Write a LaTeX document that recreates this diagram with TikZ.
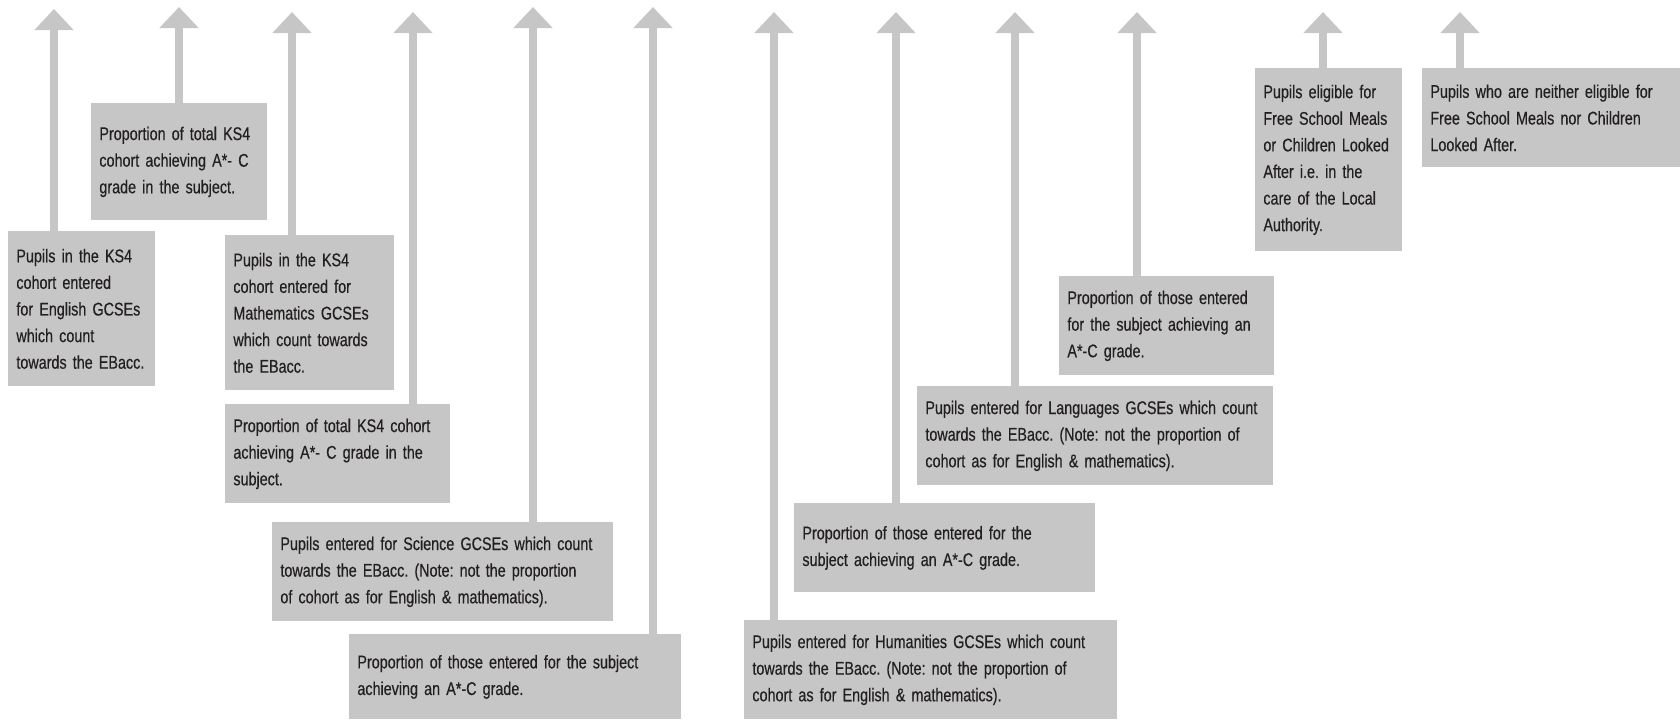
\documentclass[tikz,border=0pt]{standalone}
\usepackage{fontspec}
\setmainfont{Liberation Sans}[FakeStretch=0.78, WordSpace=0.85, FakeBold=0.4]
\usetikzlibrary{arrows.meta}
\definecolor{boxgrey}{HTML}{C6C6C6}
\definecolor{notetext}{HTML}{231F20}
\frenchspacing

\begin{document}
\begin{tikzpicture}[x=0.5pt, y=-0.5pt,
        note/.style={fill=boxgrey, text=notetext, anchor=north west, align=left,
            inner xsep=4pt, inner ysep=2pt, font=\fontsize{9.2}{13.3}\selectfont},
        pointer/.style={draw=boxgrey, line width=4pt, -{Triangle[width=19pt, length=10.5pt]}}]
        
        \useasboundingbox (0,0) rectangle (1680,719);
        
        \coordinate (tipA) at (54,9);
        \coordinate (tipB) at (179,7);
        \coordinate (tipC) at (292,12);
        \coordinate (tipD) at (413,12);
        \coordinate (tipE) at (533,7);
        \coordinate (tipF) at (653,7);
        \coordinate (tipG) at (774,12);
        \coordinate (tipH) at (896,12);
        \coordinate (tipI) at (1015,12);
        \coordinate (tipJ) at (1137,12);
        \coordinate (tipK) at (1323,12);
        \coordinate (tipL) at (1460,12);
        
        \node[note, text width=65.5pt, minimum height=77.5pt] (english) at (8,231) {Pupils in the KS4\\cohort entered\\for English GCSEs\\which count\\towards the EBacc.};
        \node[note, text width=80pt, minimum height=58.5pt] (englishpass) at (91,103) {Proportion of total KS4\\cohort achieving A*- C\\grade in the subject.};
        \node[note, text width=76.5pt, minimum height=77.5pt] (maths) at (225,235) {Pupils in the KS4\\cohort entered for\\Mathematics GCSEs\\which count towards\\the EBacc.};
        \node[note, text width=104.5pt, minimum height=49.5pt] (mathspass) at (225,404) {Proportion of total KS4 cohort\\achieving A*- C grade in the\\subject.};
        \node[note, text width=162.5pt, minimum height=49.5pt] (science) at (272,522) {Pupils entered for Science GCSEs which count\\towards the EBacc. (Note: not the proportion\\of cohort as for English \& mathematics).};
        \node[note, text width=158pt, minimum height=42.5pt] (sciencepass) at (349,634) {Proportion of those entered for the subject\\achieving an A*-C grade.};
        \node[note, text width=178.5pt, minimum height=49.5pt] (humanities) at (744,620) {Pupils entered for Humanities GCSEs which count\\towards the EBacc. (Note: not the proportion of\\cohort as for English \& mathematics).};
        \node[note, text width=142.5pt, minimum height=44.5pt] (humanitiespass) at (794,503) {Proportion of those entered for the\\subject achieving an A*-C grade.};
        \node[note, text width=170pt, minimum height=49.5pt] (languages) at (917,386) {Pupils entered for Languages GCSEs which count\\towards the EBacc. (Note: not the proportion of\\cohort as for English \& mathematics).};
        \node[note, text width=99.5pt, minimum height=49.5pt] (languagespass) at (1059,276) {Proportion of those entered\\for the subject achieving an\\A*-C grade.};
        \node[note, text width=65.5pt, minimum height=91.5pt] (fsm) at (1255,68) {Pupils eligible for\\Free School Meals\\or Children Looked\\After i.e. in the\\care of the Local\\Authority.};
        \node[note, text width=121pt, minimum height=49.5pt] (others) at (1422,68) {Pupils who are neither eligible for\\Free School Meals nor Children\\Looked After.};
        
        \draw[pointer] (english.north -| tipA) -- (tipA);
        \draw[pointer] (englishpass.north -| tipB) -- (tipB);
        \draw[pointer] (maths.north -| tipC) -- (tipC);
        \draw[pointer] (mathspass.north -| tipD) -- (tipD);
        \draw[pointer] (science.north -| tipE) -- (tipE);
        \draw[pointer] (sciencepass.north -| tipF) -- (tipF);
        \draw[pointer] (humanities.north -| tipG) -- (tipG);
        \draw[pointer] (humanitiespass.north -| tipH) -- (tipH);
        \draw[pointer] (languages.north -| tipI) -- (tipI);
        \draw[pointer] (languagespass.north -| tipJ) -- (tipJ);
        \draw[pointer] (fsm.north -| tipK) -- (tipK);
        \draw[pointer] (others.north -| tipL) -- (tipL);
        
        \end{tikzpicture}
\end{document}
